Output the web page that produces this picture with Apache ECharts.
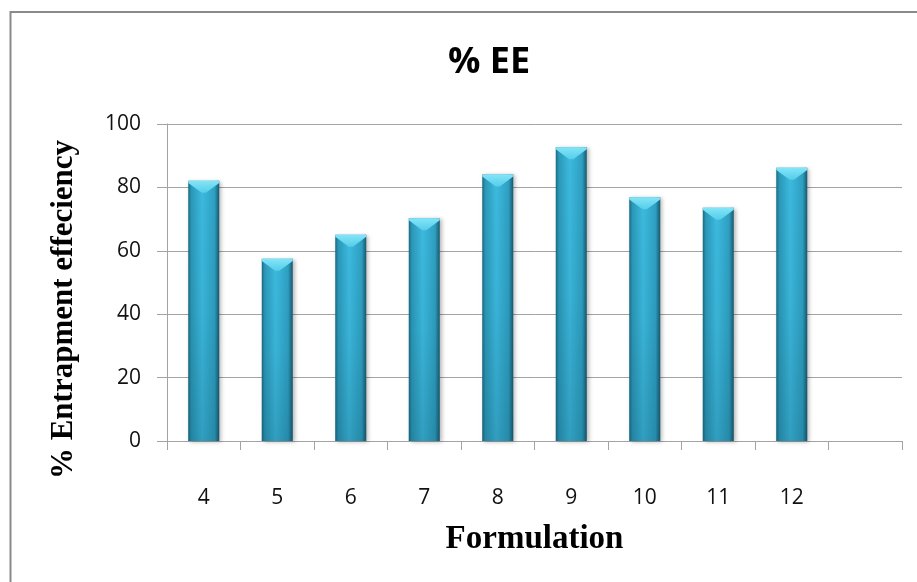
<!DOCTYPE html>
<html>
<head>
<meta charset="utf-8">
<title>% EE</title>
<script src="https://cdn.jsdelivr.net/npm/echarts@6/dist/echarts.min.js"></script>
<style>
  html, body { margin: 0; padding: 0; background: #ffffff; }
  #chart { width: 917px; height: 582px; }
</style>
</head>
<body>
<div id="chart"></div>
<script>
// Formulations on the x axis; the last slot is left empty
const formulations = ['4', '5', '6', '7', '8', '9', '10', '11', '12', ''];
// % entrapment efficiency per formulation
const entrapment = [82.1, 57.5, 65.1, 70.3, 84.1, 92.7, 76.9, 73.6, 86.2];
const yTicks = { min: 0, max: 100, interval: 20 };

const chart = echarts.init(document.getElementById('chart'), null, { renderer: 'canvas' });

const barW = 31;
const gridColor = '#a3a3a3';

const option = {
  backgroundColor: '#ffffff',
  animation: false,
  graphic: [{
    type: 'rect',
    shape: { x: 10.5, y: 12, width: 1000, height: 1000 },
    style: { fill: 'none', stroke: '#8a8a8a', lineWidth: 2 },
    silent: true
  }],
  title: {
    text: '% EE',
    left: 443,
    top: 40,
    textStyle: { fontFamily: 'Open Sans', fontWeight: 'bold', fontSize: 36, color: '#000' }
  },
  grid: { left: 167, right: 15, top: 124, bottom: 141, containLabel: false },
  xAxis: {
    type: 'category',
    data: formulations,
    name: 'Formulation',
    nameLocation: 'middle',
    nameGap: 82,
    nameTextStyle: { fontFamily: 'Liberation Serif', fontWeight: 'bold', fontSize: 33, color: '#000' },
    axisLine: { lineStyle: { color: gridColor, width: 1 } },
    axisTick: { show: true, length: 9, lineStyle: { color: gridColor } },
    axisLabel: { margin: 47, fontFamily: 'Open Sans', fontSize: 21, color: '#111' }
  },
  yAxis: {
    type: 'value',
    min: yTicks.min,
    max: yTicks.max,
    interval: yTicks.interval,
    name: '% Entrapment effeciency',
    nameLocation: 'middle',
    nameRotate: 90,
    nameGap: 88,
    nameTextStyle: {
      fontFamily: 'Liberation Serif', fontWeight: 'bold', fontSize: 31, color: '#000',
      padding: [0, 54, 0, 0]
    },
    axisLine: { show: true, lineStyle: { color: gridColor, width: 1 } },
    axisTick: { show: true, length: 10, lineStyle: { color: gridColor } },
    axisLabel: { margin: 26, fontFamily: 'Open Sans', fontSize: 21, color: '#111' },
    splitLine: { show: true, lineStyle: { color: gridColor, width: 1 } }
  },
  series: [
    {
      // cylinder body, shaded across its width
      type: 'bar',
      data: entrapment,
      barWidth: barW,
      barGap: '-100%',
      itemStyle: {
        color: new echarts.graphic.LinearGradient(0, 0, 1, 0, [
          { offset: 0, color: '#1a6a82' },
          { offset: 0.1, color: '#2b98b8' },
          { offset: 0.45, color: '#3cbadf' },
          { offset: 0.85, color: '#2e9fc1' },
          { offset: 1, color: '#17586d' }
        ]),
        shadowColor: 'rgba(0,0,0,0.28)',
        shadowBlur: 4,
        shadowOffsetX: 2,
        shadowOffsetY: 1
      },
      silent: true
    },
    {
      // darkening toward the base
      type: 'bar',
      data: entrapment,
      barWidth: barW,
      barGap: '-100%',
      itemStyle: {
        color: new echarts.graphic.LinearGradient(0, 0, 0, 1, [
          { offset: 0, color: 'rgba(10,60,80,0)' },
          { offset: 0.5, color: 'rgba(10,60,80,0.06)' },
          { offset: 1, color: 'rgba(10,60,80,0.22)' }
        ])
      },
      silent: true
    },
    {
      // bevelled cap on top of each bar
      type: 'pictorialBar',
      data: entrapment,
      barWidth: barW,
      barGap: '-100%',
      symbol: 'path://M0,0 L30,0 L30,2 L17,11 L13,11 L0,2 Z',
      symbolSize: [barW, 12],
      symbolPosition: 'end',
      symbolKeepAspect: false,
      itemStyle: {
        color: new echarts.graphic.LinearGradient(0, 0, 0, 1, [
          { offset: 0, color: '#84e5f8' },
          { offset: 1, color: '#55cdea' }
        ])
      },
      z: 5,
      silent: true
    }
  ]
};

chart.setOption(option);
</script>
</body>
</html>
